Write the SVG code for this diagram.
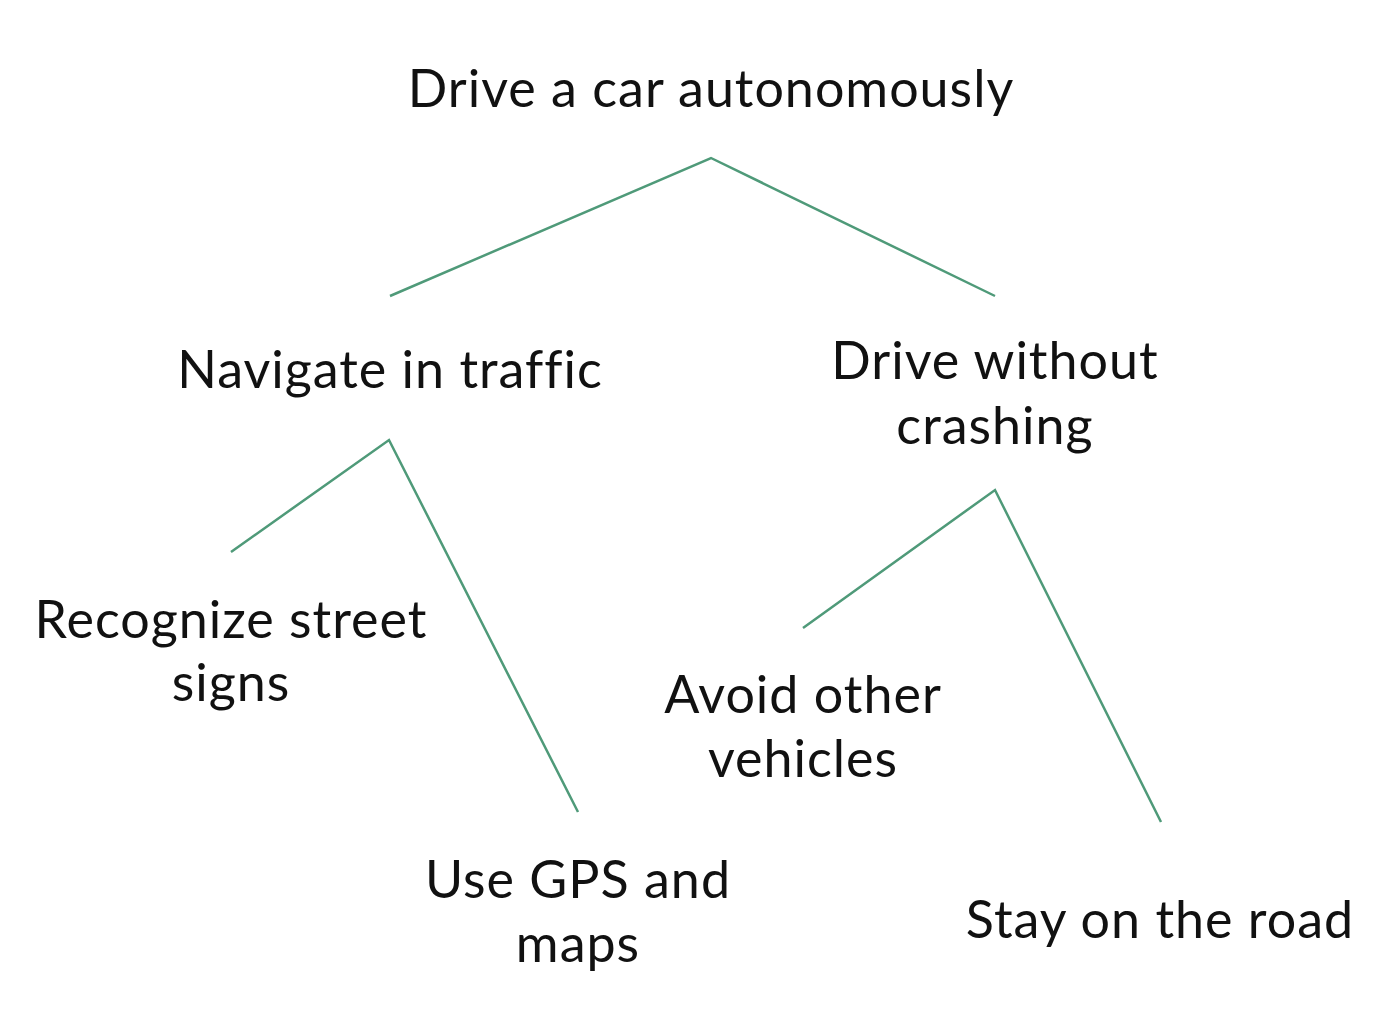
<svg xmlns="http://www.w3.org/2000/svg" width="1400" height="1018" viewBox="0 0 1400 1018">
<style>
.t{font-family:"Lato","Noto Sans","Liberation Sans",sans-serif;font-size:52px;letter-spacing:1px;font-variant-ligatures:none;fill:#111;text-anchor:middle}
.c{fill:none;stroke:#4f9a79;stroke-width:2.5;stroke-linejoin:miter}
</style>
<rect width="1400" height="1018" fill="#fff"/>
<g id="connectors">
<polyline class="c" points="390,296 711,158 995,296"/>
<polyline class="c" points="231,552 389,440 578,812"/>
<polyline class="c" points="803,628 995,490 1161,822"/>
</g>
<g id="n-root"><text class="t" x="711" y="107">Drive a car autonomously</text></g>
<g id="n-navigate"><text class="t" x="390" y="388">Navigate in traffic</text></g>
<g id="n-crash"><text class="t" x="995" y="379">Drive without</text><text class="t" x="995" y="444">crashing</text></g>
<g id="n-signs"><text class="t" x="231" y="638">Recognize street</text><text class="t" x="231" y="701">signs</text></g>
<g id="n-avoid"><text class="t" x="803" y="713">Avoid other</text><text class="t" x="803" y="777">vehicles</text></g>
<g id="n-gps"><text class="t" x="578" y="898">Use GPS and</text><text class="t" x="578" y="962">maps</text></g>
<g id="n-road"><text class="t" x="1160" y="938">Stay on the road</text></g>
</svg>
